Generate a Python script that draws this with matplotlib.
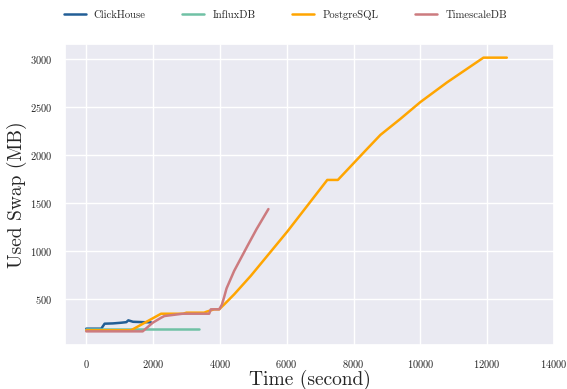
import matplotlib
matplotlib.use("Agg")
import matplotlib.pyplot as plt
import seaborn as sns

sns.set_theme(style="darkgrid")
plt.rcParams['font.family'] = ['cmr10', 'DejaVu Serif']
plt.rcParams['mathtext.fontset'] = 'cm'
plt.rcParams['axes.formatter.use_mathtext'] = True

series_names = ["ClickHouse", "InfluxDB", "PostgreSQL", "TimescaleDB"]
colors = ["#225e96", "#70c1a5", "#ffa500", "#cc7b7f"]

ch_t = [0, 450, 550, 800, 1045, 1200, 1260, 1400, 1700, 1940]
ch_v = [190, 190, 242, 245, 252, 258, 277, 262, 258, 256]

in_t = [0, 3383]
in_v = [183, 183]

pg_t = [0, 1340, 2240, 2900, 3000, 3530, 3600, 3830, 3980, 4150, 4430, 4925,
        6020, 7215, 7532, 8358, 8806, 9403, 10000, 10800, 11890, 12588]
pg_v = [173, 173, 346, 346, 357, 357, 367, 392, 392, 450, 549, 741,
        1204, 1742, 1742, 2048, 2212, 2379, 2554, 2760, 3018, 3018]

ts_t = [0, 1690, 1990, 2240, 2340, 2886, 3680, 3730, 3980, 4060, 4128, 4200,
        4428, 4826, 5100, 5453]
ts_v = [162, 162, 252, 304, 322, 346, 346, 392, 392, 440, 520, 610,
        793, 1054, 1230, 1438]

fig, ax = plt.subplots(figsize=(5.67, 3.89), dpi=100)
fig.subplots_adjust(left=0.115, right=0.977, top=0.887, bottom=0.113)

for name, c, t, v in zip(series_names, colors,
                         [ch_t, in_t, pg_t, ts_t], [ch_v, in_v, pg_v, ts_v]):
    ax.plot(t, v, color=c, lw=1.8, label=name)

ax.set_xlim(right=14000)
ax.set_xticks([0, 2000, 4000, 6000, 8000, 10000, 12000, 14000])
ax.set_yticks([500, 1000, 1500, 2000, 2500, 3000])
ax.tick_params(labelsize=7.5)
ax.set_xlabel("Time (second)", fontsize=14, labelpad=0)
ax.set_ylabel("Used Swap (MB)", fontsize=14, labelpad=2)

fig.legend(loc="upper center", bbox_to_anchor=(0.503, 1.0), ncol=4, frameon=False,
           fontsize=7.7, columnspacing=3.45, handlelength=2.05, handletextpad=0.75)

fig.savefig("out.png", dpi=100)
